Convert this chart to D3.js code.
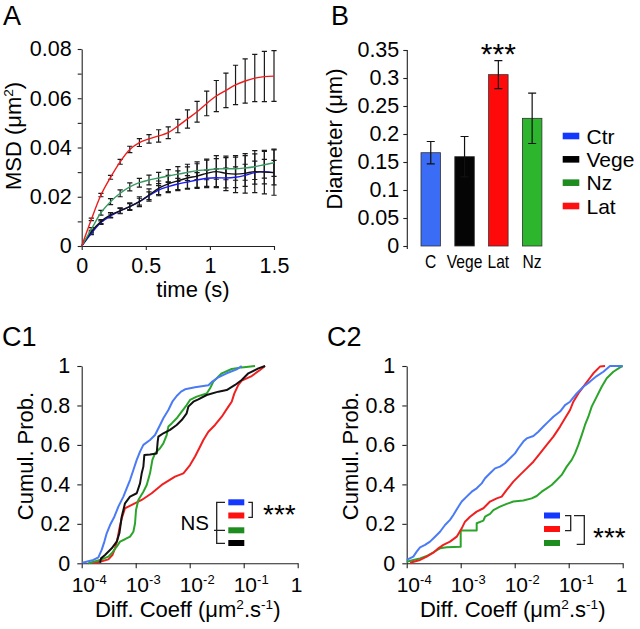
<!DOCTYPE html>
<html><head><meta charset="utf-8">
<script src="https://cdn.jsdelivr.net/npm/d3@7"></script>
<style>
body{margin:0;background:#fff}
svg{display:block}
text{font-family:"Liberation Sans",Arial,sans-serif;fill:#000}
</style>
</head><body>
<svg id="fig" width="640" height="629"></svg>
<script>
// ---------------- DATA ----------------
// Panel A: MSD vs time
const msdTime = [0,0.075,0.15,0.225,0.3,0.375,0.45,0.525,0.6,0.675,0.75,0.825,0.9,0.975,1.05,1.125,1.2,1.275,1.35,1.425,1.5];
const msdLat   = [0,0.0108,0.0207,0.0279,0.0342,0.0392,0.0420,0.0435,0.0447,0.0460,0.0487,0.0516,0.0545,0.0579,0.0609,0.0632,0.0654,0.0670,0.0682,0.0688,0.0690];
const msdLatErr= [0,0.0005,0.0007,0.0008,0.0010,0.0013,0.0016,0.0017,0.0025,0.0024,0.0027,0.0037,0.0042,0.0050,0.0063,0.0070,0.0080,0.0090,0.0096,0.0102,0.0103];
const msdNz    = [0,0.0068,0.0135,0.0180,0.0214,0.0240,0.0257,0.0268,0.0276,0.0284,0.0292,0.0299,0.0306,0.0309,0.0313,0.0314,0.0314,0.0317,0.0322,0.0330,0.0338];
const msdNzErr = [0,0.0007,0.0010,0.0012,0.0014,0.0016,0.0018,0.0020,0.0023,0.0026,0.0030,0.0033,0.0036,0.0040,0.0042,0.0045,0.0047,0.0050,0.0052,0.0054,0.0055];
const msdVege  = [0,0.0058,0.0099,0.0126,0.0143,0.0160,0.0180,0.0207,0.0234,0.0252,0.0265,0.0276,0.0284,0.0295,0.0302,0.0295,0.0292,0.0295,0.0302,0.0300,0.0298];
const msdVegeErr=[0,0.0006,0.0008,0.0010,0.0012,0.0015,0.0020,0.0025,0.0030,0.0035,0.0040,0.0045,0.0050,0.0058,0.0065,0.0070,0.0075,0.0080,0.0085,0.0088,0.0092];
const msdCtr   = [0,0.0051,0.0095,0.0122,0.0143,0.0160,0.0180,0.0204,0.0227,0.0241,0.0252,0.0260,0.0268,0.0275,0.0277,0.0276,0.0279,0.0287,0.0298,0.0302,0.0298];
const msdCtrErr= [0,0.0005,0.0007,0.0008,0.0010,0.0012,0.0014,0.0016,0.0018,0.0020,0.0023,0.0026,0.0030,0.0033,0.0036,0.0040,0.0042,0.0045,0.0047,0.0050,0.0050];
const msdYTicks = [0,0.01,0.02,0.03,0.04,0.05,0.06,0.07,0.08];
const msdXTicks = [0,0.5,1,1.5];

// Panel B: diameter bars
const diamCats = ["C","Vege","Lat","Nz"];
const diamVals = [0.1666,0.1595,0.306,0.228];
const diamErr  = [0.020,0.036,0.025,0.045];
const diamYTicks = [0,0.05,0.1,0.15,0.2,0.25,0.3,0.35];
const diamLegend = ["Ctr","Vege","Nz","Lat"];

// Panel C: cumulative distributions, [log10(D), cumulative probability]
const c1Ctr = [[-3.988,0.003],[-3.784,0.017],[-3.691,0.030],[-3.630,0.068],[-3.580,0.110],[-3.537,0.152],[-3.475,0.194],[-3.395,0.236],[-3.321,0.287],[-3.228,0.338],[-3.167,0.380],[-3.105,0.422],[-3.043,0.473],[-2.981,0.524],[-2.920,0.566],[-2.858,0.600],[-2.735,0.625],[-2.642,0.650],[-2.549,0.701],[-2.488,0.735],[-2.395,0.777],[-2.321,0.819],[-2.241,0.848],[-2.160,0.870],[-2.086,0.882],[-1.901,0.892],[-1.654,0.902],[-1.580,0.921],[-1.469,0.943],[-1.315,0.963],[-1.130,0.983],[-1.037,1.000]];
const c1Lat = [[-3.815,0.002],[-3.660,0.008],[-3.506,0.020],[-3.432,0.042],[-3.383,0.076],[-3.340,0.118],[-3.302,0.177],[-3.259,0.228],[-3.198,0.279],[-3.136,0.287],[-2.889,0.321],[-2.704,0.355],[-2.519,0.397],[-2.272,0.439],[-2.117,0.456],[-1.994,0.498],[-1.901,0.541],[-1.809,0.591],[-1.747,0.625],[-1.654,0.667],[-1.531,0.701],[-1.407,0.743],[-1.284,0.794],[-1.222,0.819],[-1.173,0.861],[-1.099,0.904],[-1.037,0.926],[-0.852,0.949],[-0.698,0.980],[-0.605,1.000]];
const c1Nz = [[-3.877,0.000],[-3.630,0.020],[-3.506,0.034],[-3.444,0.051],[-3.352,0.084],[-3.290,0.110],[-3.198,0.122],[-3.105,0.135],[-3.043,0.160],[-3.012,0.203],[-2.994,0.270],[-2.951,0.321],[-2.858,0.363],[-2.796,0.397],[-2.735,0.456],[-2.691,0.524],[-2.642,0.557],[-2.549,0.583],[-2.488,0.608],[-2.426,0.650],[-2.395,0.693],[-2.333,0.709],[-2.241,0.735],[-2.148,0.769],[-2.056,0.802],[-1.994,0.828],[-1.870,0.845],[-1.685,0.861],[-1.623,0.887],[-1.562,0.921],[-1.407,0.963],[-1.222,0.985],[-1.037,0.993],[-0.790,1.000]];
const c1Vege = [[-3.660,0.003],[-3.642,0.025],[-3.568,0.042],[-3.444,0.076],[-3.352,0.110],[-3.302,0.152],[-3.259,0.236],[-3.198,0.304],[-3.105,0.338],[-2.981,0.355],[-2.920,0.405],[-2.889,0.456],[-2.858,0.490],[-2.840,0.549],[-2.735,0.552],[-2.611,0.557],[-2.593,0.617],[-2.580,0.642],[-2.488,0.659],[-2.364,0.676],[-2.241,0.701],[-2.148,0.726],[-2.056,0.760],[-2.025,0.794],[-1.932,0.819],[-1.840,0.831],[-1.685,0.853],[-1.469,0.870],[-1.315,0.878],[-1.160,0.904],[-1.037,0.929],[-0.914,0.963],[-0.728,0.988],[-0.605,1.000]];
const c2Ctr = [[-4.000,0.017],[-3.877,0.034],[-3.815,0.059],[-3.753,0.081],[-3.660,0.093],[-3.568,0.110],[-3.475,0.135],[-3.383,0.160],[-3.290,0.194],[-3.198,0.220],[-3.136,0.245],[-3.043,0.287],[-2.981,0.313],[-2.889,0.338],[-2.796,0.363],[-2.704,0.380],[-2.611,0.405],[-2.549,0.431],[-2.457,0.456],[-2.364,0.481],[-2.272,0.490],[-2.179,0.507],[-2.086,0.532],[-1.994,0.557],[-1.932,0.583],[-1.840,0.617],[-1.778,0.633],[-1.654,0.645],[-1.562,0.667],[-1.469,0.693],[-1.377,0.718],[-1.284,0.743],[-1.160,0.769],[-1.068,0.802],[-0.975,0.819],[-0.852,0.861],[-0.728,0.895],[-0.605,0.921],[-0.481,0.949],[-0.358,0.971],[-0.235,1.000],[0.000,1.000]];
const c2Lat = [[-3.938,0.003],[-3.753,0.017],[-3.630,0.034],[-3.506,0.054],[-3.414,0.076],[-3.321,0.093],[-3.198,0.110],[-3.074,0.135],[-2.981,0.177],[-2.920,0.211],[-2.827,0.236],[-2.704,0.262],[-2.580,0.279],[-2.457,0.313],[-2.333,0.329],[-2.241,0.338],[-2.148,0.372],[-2.025,0.414],[-1.901,0.448],[-1.778,0.481],[-1.654,0.515],[-1.531,0.557],[-1.407,0.600],[-1.284,0.642],[-1.160,0.693],[-1.068,0.735],[-0.975,0.777],[-0.914,0.819],[-0.821,0.861],[-0.728,0.895],[-0.636,0.929],[-0.543,0.963],[-0.420,0.997],[-0.327,1.000]];
const c2Nz = [[-4.000,0.008],[-3.877,0.017],[-3.753,0.025],[-3.630,0.037],[-3.506,0.056],[-3.383,0.076],[-3.259,0.081],[-3.000,0.084],[-3.000,0.166],[-2.704,0.166],[-2.704,0.203],[-2.580,0.216],[-2.549,0.236],[-2.457,0.250],[-2.395,0.270],[-2.272,0.287],[-2.148,0.301],[-2.025,0.313],[-1.840,0.318],[-1.685,0.329],[-1.593,0.341],[-1.500,0.363],[-1.407,0.380],[-1.315,0.397],[-1.222,0.422],[-1.130,0.448],[-1.037,0.490],[-0.944,0.524],[-0.883,0.557],[-0.821,0.600],[-0.759,0.650],[-0.698,0.701],[-0.636,0.743],[-0.574,0.794],[-0.481,0.845],[-0.389,0.895],[-0.296,0.938],[-0.173,0.971],[-0.049,0.993],[0.000,1.000]];
const cXTickExp = [-4,-3,-2,-1,0];
const cYTicks = [0,0.2,0.4,0.6,0.8,1];

// ---------------- STYLE ----------------
const COL = {
  aRed:"#ee1c1c", aGreen:"#3a9a62", aBlack:"#111111", aBlue:"#1a1aee",
  bBlue:"#3a6cf6", bBlack:"#050505", bRed:"#ff0a0a", bGreen:"#2db52d",
  legBlue:"#1438ff", legBlack:"#000000", legGreen:"#1e8c1e", legRed:"#ff1010",
  cBlue:"#4a7af5", cRed:"#f02020", cGreen:"#2aa52a", cBlack:"#111111",
  axis:"#222"
};
const TICK_FS = 21.5, LABEL_FS = 22, PANEL_FS = 27;

const svg = d3.select("#fig");

function styleAxis(g){
  g.select(".domain").attr("stroke",COL.axis).attr("stroke-width",1.1);
  g.selectAll(".tick line").attr("stroke",COL.axis).attr("stroke-width",1.1);
  g.selectAll(".tick text").attr("font-size",TICK_FS).attr("fill","#000")
    .attr("font-family",'"Liberation Sans",Arial,sans-serif');
}
function richText(sel, parts, fs){
  let prevSup = false;
  parts.forEach(([t,sup])=>{
    const ts = sel.append("tspan").text(t);
    if(sup && !prevSup){ ts.attr("dy",-fs*0.38).attr("font-size",fs*0.62); }
    else if(sup){ ts.attr("font-size",fs*0.62); }
    else if(!sup && prevSup){ ts.attr("dy",fs*0.38); }
    prevSup = sup;
  });
  return sel;
}
function panelLabel(x,y,t){
  svg.append("text").attr("x",x).attr("y",y).attr("font-size",PANEL_FS).text(t);
}
function rotLabel(x,y,parts){
  const t = svg.append("text").attr("transform",`translate(${x},${y}) rotate(-90)`)
    .attr("text-anchor","middle").attr("font-size",LABEL_FS);
  richText(t,parts,LABEL_FS);
}
function xLabel(x,y,parts){
  const t = svg.append("text").attr("x",x).attr("y",y)
    .attr("text-anchor","middle").attr("font-size",LABEL_FS);
  richText(t,parts,LABEL_FS);
}

// ---------------- PANEL A ----------------
{
  const x = d3.scaleLinear().domain([0,1.5]).range([81.7,274]);
  const y = d3.scaleLinear().domain([0,0.08]).range([246,49]);
  const gy = svg.append("g").attr("transform","translate(81.7,0)")
    .call(d3.axisLeft(y).tickValues(msdYTicks).tickSize(4).tickSizeOuter(0).tickPadding(6)
      .tickFormat(d=> (Math.round(d*100)%2===0) ? (d===0?"0":d.toFixed(2)) : ""));
  styleAxis(gy);
  const gx = svg.append("g").attr("transform","translate(0,246)")
    .call(d3.axisBottom(x).tickValues(msdXTicks).tickSize(4).tickSizeOuter(0).tickPadding(8)
      .tickFormat(d=>String(d)));
  styleAxis(gx);

  const series = [
    {v:msdCtr, e:msdCtrErr, c:COL.aBlue},
    {v:msdVege, e:msdVegeErr, c:COL.aBlack},
    {v:msdNz, e:msdNzErr, c:COL.aGreen},
    {v:msdLat, e:msdLatErr, c:COL.aRed}
  ];
  const eg = svg.append("g").attr("stroke","#1a1a1a").attr("stroke-width",1.2).attr("fill","none");
  series.forEach(s=>{
    msdTime.forEach((t,i)=>{
      if(i===0) return;
      const cx = x(t), y1 = y(s.v[i]+s.e[i]), y2 = y(s.v[i]-s.e[i]);
      eg.append("path").attr("d",`M${cx},${y1}V${y2}M${cx-2.6},${y1}H${cx+2.6}M${cx-2.6},${y2}H${cx+2.6}`);
    });
  });
  const line = d3.line().x((d,i)=>x(msdTime[i])).y(d=>y(d)).curve(d3.curveMonotoneX);
  series.forEach(s=>{
    svg.append("path").datum(s.v).attr("d",line).attr("fill","none")
      .attr("stroke",s.c).attr("stroke-width",1.4);
  });
  panelLabel(3,25,"A");
  rotLabel(21,136,[["MSD (μm",false],["2",true],[")",false]]);
  xLabel(193,297,[["time (s)",false]]);
}

// ---------------- PANEL B ----------------
{
  const x = d3.scaleBand().domain(diamCats).range([406.7,556.2]).padding(0.423);
  const y = d3.scaleLinear().domain([0,0.35]).range([246,50]);
  const barCol = [COL.bBlue,COL.bBlack,COL.bRed,COL.bGreen];
  const gy = svg.append("g").attr("transform","translate(407.3,0)")
    .call(d3.axisLeft(y).tickValues(diamYTicks).tickSize(4).tickSizeOuter(0).tickPadding(4)
      .tickFormat(d=> d===0?"0":String(+d.toFixed(2))));
  styleAxis(gy);
  gy.select(".domain").attr("d","M0,50V249");
  svg.append("g").selectAll("rect").data(diamCats).join("rect")
    .attr("x",d=>x(d)).attr("width",x.bandwidth())
    .attr("y",(d,i)=>y(diamVals[i])).attr("height",(d,i)=>y(0)-y(diamVals[i]))
    .attr("fill",(d,i)=>barCol[i]).attr("stroke","#333").attr("stroke-width",0.8);
  const eg = svg.append("g").attr("stroke","#111").attr("stroke-width",1.2).attr("fill","none");
  diamCats.forEach((d,i)=>{
    const cx = x(d)+x.bandwidth()/2, y1=y(diamVals[i]+diamErr[i]), y2=y(diamVals[i]-diamErr[i]);
    eg.append("path").attr("d",`M${cx},${y1}V${y2}M${cx-4},${y1}H${cx+4}M${cx-4},${y2}H${cx+4}`);
  });
  diamCats.forEach(d=>{
    const t = svg.append("text").attr("x",x(d)+x.bandwidth()/2).attr("y",268)
      .attr("text-anchor","middle").attr("font-size",19).text(d);
    const w = t.node().getComputedTextLength();
    t.attr("textLength",w*0.82).attr("lengthAdjust","spacingAndGlyphs");
  });
  svg.append("text").attr("x",x("Lat")+x.bandwidth()/2).attr("y",64).attr("text-anchor","middle")
    .attr("font-size",30).text("***");
  const legCol = [COL.legBlue,COL.legBlack,COL.legGreen,COL.legRed];
  const ly = d3.scalePoint().domain(diamLegend).range([136,206]);
  diamLegend.forEach((d,i)=>{
    svg.append("rect").attr("x",562.7).attr("y",ly(d)-3.3).attr("width",16.6).attr("height",6.6).attr("fill",legCol[i]);
    svg.append("text").attr("x",586.5).attr("y",ly(d)+7.5).attr("font-size",21).text(d);
  });
  panelLabel(331,25,"B");
  rotLabel(342,139,[["Diameter (μm)",false]]);
}

// ---------------- PANEL C ----------------
function drawC(x0, series, label, labelX){
  const x = d3.scaleLog().domain([1e-4,1]).range([x0, x0+216]);
  const y = d3.scaleLinear().domain([0,1]).range([563.3,366]);
  const gy = svg.append("g").attr("transform",`translate(${x0},0)`)
    .call(d3.axisLeft(y).tickValues(cYTicks).tickSize(4.4).tickSizeOuter(0).tickPadding(7)
      .tickFormat(d=>String(d)));
  styleAxis(gy);
  const gx = svg.append("g").attr("transform","translate(0,563.3)")
    .call(d3.axisBottom(x).tickValues(cXTickExp.map(e=>Math.pow(10,e))).tickSize(5).tickSizeOuter(0)
      .tickFormat(""));
  styleAxis(gx);
  cXTickExp.forEach(e=>{
    const px = x(Math.pow(10,e));
    if(e===0){
      svg.append("text").attr("x",px-1).attr("y",592).attr("text-anchor","middle").attr("font-size",21).text("1");
    } else {
      const t = svg.append("text").attr("x",px-10).attr("y",592).attr("font-size",21);
      t.append("tspan").text("10");
      t.append("tspan").attr("font-size",13).attr("dy",-8.5).text(String(e));
    }
  });
  const line = d3.line().x(d=>x(Math.pow(10,d[0]))).y(d=>y(d[1]));
  series.forEach(s=>{
    svg.append("path").datum(s.d).attr("d",line).attr("fill","none")
      .attr("stroke",s.c).attr("stroke-width",2).attr("stroke-linejoin","round");
  });
  panelLabel(labelX,346,label);
  rotLabel(x0-48.7,456,[["Cumul. Prob.",false]]);
  xLabel(x0+106,617,[["Diff. Coeff (μm",false],["2",true],[".s",false],["-1",true],[")",false]]);
}
drawC(81.7,[{d:c1Lat,c:COL.cRed},{d:c1Nz,c:COL.cGreen},{d:c1Ctr,c:COL.cBlue},{d:c1Vege,c:COL.cBlack}],"C1",2);
drawC(406.7,[{d:c2Nz,c:COL.cGreen},{d:c2Lat,c:COL.cRed},{d:c2Ctr,c:COL.cBlue}],"C2",327);

// C1 legend
{
  const rows = [[502.3,COL.legBlue],[515.5,COL.legRed],[530.3,COL.legGreen],[543,COL.legBlack]];
  rows.forEach(r=>svg.append("rect").attr("x",228.3).attr("y",r[0]-3).attr("width",16).attr("height",6).attr("fill",r[1]));
  const g = svg.append("g").attr("stroke","#222").attr("stroke-width",1.3).attr("fill","none");
  g.append("path").attr("d","M225,502.3H216.7V543.3H225M214,530.3H225");
  g.append("path").attr("d","M248.3,502.3H252.3V517.3H248.3");
  svg.append("text").attr("x",209).attr("y",530).attr("text-anchor","end").attr("font-size",20.5).text("NS");
  svg.append("text").attr("x",263).attr("y",524).attr("font-size",28).text("***");
}
// C2 legend
{
  const rows = [[515.5,COL.legBlue],[529,COL.legRed],[543,COL.legGreen]];
  rows.forEach(r=>svg.append("rect").attr("x",544).attr("y",r[0]-3).attr("width",16).attr("height",6).attr("fill",r[1]));
  const g = svg.append("g").attr("stroke","#222").attr("stroke-width",1.3).attr("fill","none");
  g.append("path").attr("d","M565,515.7H570.7V530.7H565");
  g.append("path").attr("d","M574,515.7H584.3V544.3H576.7");
  svg.append("text").attr("x",593).attr("y",547).attr("font-size",28).text("***");
}
</script>
</body></html>
